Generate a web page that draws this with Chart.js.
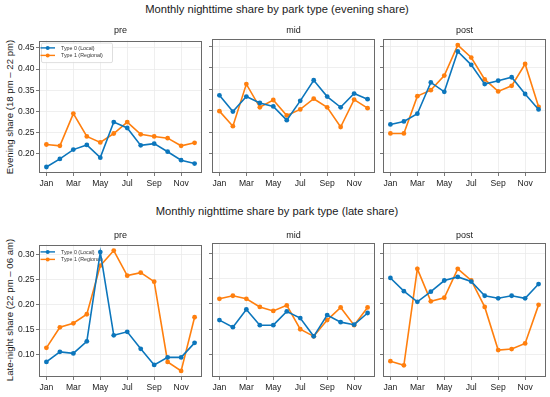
<!DOCTYPE html>
<html><head><meta charset="utf-8">
<script src="https://cdn.jsdelivr.net/npm/chart.js@4"></script>
<style>
html,body{margin:0;padding:0;background:#fff;}
body{width:550px;height:397px;position:relative;overflow:hidden;font-family:"Liberation Sans",Arial,sans-serif;color:#1a1a1a;}
.t{position:absolute;white-space:nowrap;transform:translate(-50%,-50%);line-height:1;}
.yl{position:absolute;white-space:nowrap;transform:translate(-50%,-50%) rotate(-90deg);line-height:1;font-size:9.6px;}
canvas{position:absolute;}
</style></head><body>
<div class="t" style="left:277px;top:10px;font-size:11.2px;">Monthly nighttime share by park type (evening share)</div>
<div class="t" style="left:277px;top:212px;font-size:11.2px;">Monthly nighttime share by park type (late share)</div>
<div class="yl" style="left:10px;top:107px;">Evening share (18 pm – 22 pm)</div>
<div class="yl" style="left:10px;top:310px;">Late-night share (22 pm – 06 am)</div>
<script>
// ---- data ----
const months = ['Jan','Feb','Mar','Apr','May','Jun','Jul','Aug','Sep','Oct','Nov','Dec'];
const monthTickIdx = [0,2,4,6,8,10];
const periods = ['pre','mid','post'];
const seriesNames = ['Type 0 (Local)','Type 1 (Regional)'];
const eveningTicks = [0.20,0.25,0.30,0.35,0.40,0.45];
const lateTicks = [0.10,0.15,0.20,0.25,0.30];

const eveningPreLocal     = [0.169,0.188,0.210,0.221,0.191,0.275,0.261,0.220,0.224,0.205,0.185,0.177];
const eveningPreRegional  = [0.222,0.219,0.295,0.241,0.227,0.248,0.275,0.246,0.241,0.237,0.219,0.226];
const eveningMidLocal     = [0.336,0.298,0.333,0.318,0.310,0.278,0.323,0.371,0.333,0.308,0.340,0.327];
const eveningMidRegional  = [0.299,0.264,0.362,0.308,0.325,0.289,0.303,0.328,0.308,0.262,0.326,0.306];
const eveningPostLocal    = [0.268,0.275,0.293,0.366,0.344,0.438,0.407,0.362,0.370,0.378,0.339,0.303];
const eveningPostRegional = [0.247,0.247,0.334,0.348,0.382,0.453,0.424,0.373,0.345,0.358,0.409,0.309];

const latePreLocal     = [0.086,0.106,0.103,0.127,0.305,0.139,0.146,0.112,0.080,0.095,0.095,0.124];
const latePreRegional  = [0.114,0.155,0.163,0.181,0.278,0.308,0.258,0.264,0.246,0.086,0.068,0.175];
const lateMidLocal     = [0.168,0.154,0.189,0.158,0.158,0.185,0.172,0.136,0.178,0.164,0.159,0.182];
const lateMidRegional  = [0.210,0.216,0.210,0.194,0.186,0.197,0.150,0.136,0.168,0.193,0.158,0.193];
const latePostLocal    = [0.251,0.225,0.204,0.224,0.246,0.253,0.244,0.216,0.211,0.216,0.211,0.239];
const latePostRegional = [0.087,0.079,0.269,0.205,0.212,0.269,0.246,0.194,0.109,0.111,0.122,0.198];

// ---- styling ----
const BLUE = '#0c76bc', ORANGE = '#ff7f0e';
const FONT = '"Liberation Sans", Arial, sans-serif';
const GRID = '#ebebeb', FRAME = '#6a6a6a';

function addTitle(text, x, y){
  const d = document.createElement('div');
  d.className = 't'; d.style.left = x + 'px'; d.style.top = y + 'px'; d.style.fontSize = '9px';
  d.textContent = text; document.body.appendChild(d);
}

function makePanel(area, yRange, yTicks, showYLabels, local, regional, legendMode){
  const yw = showYLabels ? area.L : 4;
  const padTop = 5, padRight = 4, xh = 20;
  const cv = document.createElement('canvas');
  const left = area.L - yw, top = area.T - padTop;
  const w = area.R + padRight - left, h = area.B + xh - top;
  cv.width = w; cv.height = h;
  cv.style.left = left + 'px'; cv.style.top = top + 'px';
  cv.style.width = w + 'px'; cv.style.height = h + 'px';
  document.body.appendChild(cv);

  const toPts = arr => arr.map((v,i) => ({x:i, y:v}));
  const ds = (label, arr, color) => ({
    label, data: toPts(arr), borderColor: color, backgroundColor: color,
    borderWidth: 1.6, pointRadius: 2.4, pointBorderWidth: 0, pointHoverRadius: 2.4, tension: 0
  });

  const legendPlugin = {
    id: 'miniLegend',
    beforeDatasetsDraw(chart){ if (legendMode === 'under') drawLegend(chart, false); },
    afterDatasetsDraw(chart){
      const a = chart.chartArea, ctx = chart.ctx;
      if (legendMode === 'box') drawLegend(chart, true);
      ctx.save(); ctx.strokeStyle = FRAME; ctx.lineWidth = 1;
      ctx.strokeRect(Math.round(a.left) + 0.5, Math.round(a.top) + 0.5, Math.round(a.width) - 1, Math.round(a.height) - 1);
      ctx.restore();
    }
  };
  function drawLegend(chart, box){
    const a = chart.chartArea, ctx = chart.ctx;
    ctx.save();
    if (box){
      ctx.fillStyle = 'rgba(255,255,255,0.85)'; ctx.strokeStyle = '#d6d6d6'; ctx.lineWidth = 0.8;
      ctx.beginPath(); ctx.roundRect(a.left + 2.5, a.top + 2.5, 71, 19.5, 1.5); ctx.fill(); ctx.stroke();
    }
    ctx.font = '5.3px ' + FONT; ctx.textBaseline = 'middle'; ctx.fillStyle = '#333';
    chart.data.datasets.forEach((d, i) => {
      const y = a.top + 7.3 + i * 7.5;
      ctx.strokeStyle = d.borderColor; ctx.lineWidth = 1.4;
      ctx.beginPath(); ctx.moveTo(a.left + 1.5, y); ctx.lineTo(a.left + 16, y); ctx.stroke();
      ctx.fillStyle = d.borderColor; ctx.beginPath(); ctx.arc(a.left + 8.7, y, 2, 0, Math.PI * 2); ctx.fill();
      ctx.fillStyle = '#333'; ctx.fillText(d.label, a.left + 22, y + 0.3);
    });
    ctx.restore();
  }

  new Chart(cv, {
    type: 'line',
    data: { datasets: [ds(seriesNames[0], local, BLUE), ds(seriesNames[1], regional, ORANGE)] },
    options: {
      responsive: false, animation: false, devicePixelRatio: 1,
      layout: { padding: { top: padTop, right: padRight, left: 0, bottom: 0 } },
      plugins: { legend: { display: false }, tooltip: { enabled: false }, title: { display: false } },
      scales: {
        x: {
          type: 'linear', min: -0.55, max: 11.55,
          afterBuildTicks(s){ s.ticks = monthTickIdx.map(v => ({value: v})); },
          afterFit(s){ s.height = xh; },
          ticks: { autoSkip: false, maxRotation: 0, padding: 2.5, color: '#222', font: { size: 8.6, family: FONT },
                   callback: v => months[v] },
          grid: { color: GRID, lineWidth: 0.8, tickLength: 3, tickColor: FRAME, tickWidth: 0.9 },
          border: { display: false }
        },
        y: {
          type: 'linear', min: yRange[0], max: yRange[1],
          afterBuildTicks(s){ s.ticks = yTicks.map(v => ({value: v})); },
          afterFit(s){ s.width = yw; },
          ticks: { display: showYLabels, padding: 1.5, color: '#222', font: { size: 8.5, family: FONT },
                   callback: v => v.toFixed(2) },
          grid: { color: GRID, lineWidth: 0.8, tickLength: 3, tickColor: FRAME, tickWidth: 0.9 },
          border: { display: false }
        }
      }
    },
    plugins: [legendPlugin]
  });
}

const cols = [{L:39,R:202},{L:212,R:375},{L:383,R:546}];
const topRow = {T:39, B:173}, botRow = {T:243, B:377};
const eveningRange = [0.1548, 0.4672], lateRange = [0.0559, 0.3199];
const eveningData = [[eveningPreLocal,eveningPreRegional],[eveningMidLocal,eveningMidRegional],[eveningPostLocal,eveningPostRegional]];
const lateData = [[latePreLocal,latePreRegional],[lateMidLocal,lateMidRegional],[latePostLocal,latePostRegional]];

cols.forEach((c, i) => {
  makePanel({L:c.L, R:c.R, T:topRow.T, B:topRow.B}, eveningRange, eveningTicks, i === 0,
            eveningData[i][0], eveningData[i][1], i === 0 ? 'box' : null);
  addTitle(periods[i], (c.L + c.R) / 2, 29.5);
  makePanel({L:c.L, R:c.R, T:botRow.T, B:botRow.B}, lateRange, lateTicks, i === 0,
            lateData[i][0], lateData[i][1], i === 0 ? 'under' : null);
  addTitle(periods[i], (c.L + c.R) / 2, 234.5);
});
</script>
</body></html>
